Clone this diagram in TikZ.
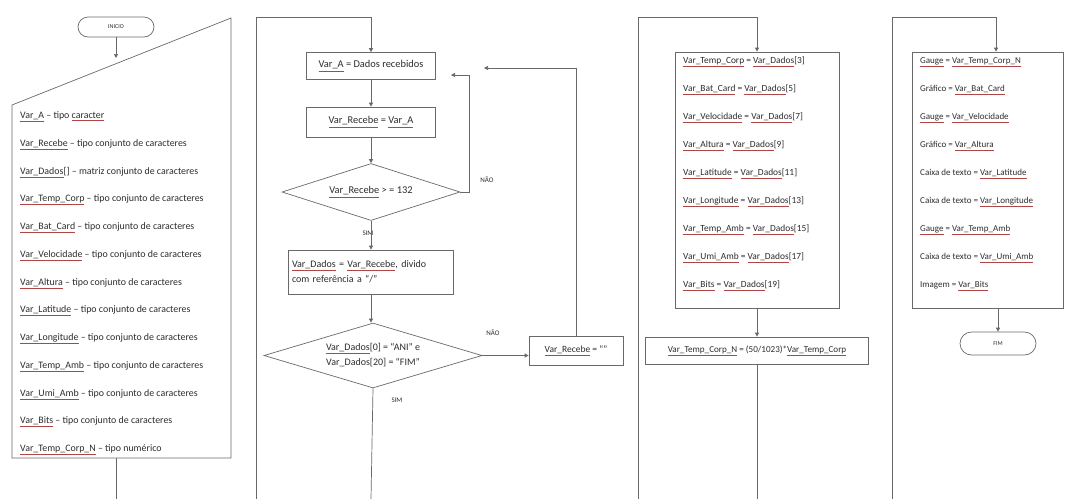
\documentclass[tikz,border=0pt]{standalone}
\usepackage{fontspec}
\setmainfont{Carlito}
\usetikzlibrary{shapes.geometric,shapes.misc,arrows.meta,calc}
\definecolor{lncol}{RGB}{105,105,105}
\definecolor{txcol}{RGB}{45,45,45}
\definecolor{ulcol}{RGB}{175,70,70}
\newcommand{\vn}[1]{\textcolor{ulcol}{\underline{\textcolor{txcol}{#1}}}}
\begin{document}
\begin{tikzpicture}[x=1pt,y=-1pt,
  font=\fontsize{9}{11}\selectfont, text=txcol,
  box/.style={draw=lncol, line width=0.7pt, fill=white, inner sep=2pt},
  term/.style={rounded rectangle, draw=lncol, line width=0.7pt, fill=white, inner sep=1pt, font=\fontsize{6}{7}\selectfont},
  dia/.style={diamond, draw=lncol, line width=0.7pt, fill=white, inner sep=0pt, align=center},
  lbl/.style={inner sep=0pt, anchor=west},
  lblA/.style={lbl, font=\fontsize{9.9}{11}\selectfont},
  lblC/.style={lbl, font=\fontsize{9.4}{11}\selectfont},
  tag/.style={inner sep=0pt, font=\fontsize{7}{8}\selectfont},
  conn/.style={draw=lncol, line width=0.7pt},
  arr/.style={conn, -{Triangle[length=4pt,width=4pt]}}]
\useasboundingbox (0,0) rectangle (1066,499);
\fill[white] (0,0) rectangle (1066,499);

% ---------- column 1 ----------
\node[term, minimum width=78pt, minimum height=20pt] (ini) at (116,27) {INICIO};
\draw[conn] (12,105) -- (231,18) -- (231,458) -- (12,458) -- cycle;
\coordinate (dtop) at (116,58);
\coordinate (dbot) at (116,458);
\coordinate (e1) at (116,499);
\draw[arr] (ini) -- (dtop);
\draw[conn] (dbot) -- (e1);
\node[lblA] (d1) at (20,117) {\vn{Var\_A} – tipo \vn{caracter}};
\node[lblA] (d2) at (20,145) {\vn{Var\_Recebe} – tipo conjunto de caracteres};
\node[lblA] (d3) at (20,172.5) {\vn{Var\_Dados}[] – matriz conjunto de caracteres};
\node[lblA] (d4) at (20,200) {\vn{Var\_Temp\_Corp} – tipo conjunto de caracteres};
\node[lblA] (d5) at (20,228) {\vn{Var\_Bat\_Card} – tipo conjunto de caracteres};
\node[lblA] (d6) at (20,256) {\vn{Var\_Velocidade} – tipo conjunto de caracteres};
\node[lblA] (d7) at (20,283.5) {\vn{Var\_Altura} – tipo conjunto de caracteres};
\node[lblA] (d8) at (20,311) {\vn{Var\_Latitude} – tipo conjunto de caracteres};
\node[lblA] (d9) at (20,339) {\vn{Var\_Longitude} – tipo conjunto de caracteres};
\node[lblA] (d10) at (20,367) {\vn{Var\_Temp\_Amb} – tipo conjunto de caracteres};
\node[lblA] (d11) at (20,394.5) {\vn{Var\_Umi\_Amb} – tipo conjunto de caracteres};
\node[lblA] (d12) at (20,422) {\vn{Var\_Bits} – tipo conjunto de caracteres};
\node[lblA] (d13) at (20,450) {\vn{Var\_Temp\_Corp\_N} – tipo numérico};

% ---------- column 2 ----------
\begin{scope}[font=\fontsize{10.4}{12}\selectfont]
\coordinate (s2) at (256,499);
\coordinate (t2) at (371,17);
\node[box, minimum width=129pt, minimum height=27pt] (a1) at (371,66) {\vn{Var\_A} = Dados recebidos};
\draw[arr] (s2) |- (t2) -- (a1.north);
\node[box, minimum width=129pt, minimum height=30pt] (a2) at (371,122) {\vn{Var\_Recebe} = \vn{Var\_A}};
\draw[arr] (a1) -- (a2);
\node[dia, minimum width=178pt, minimum height=57pt, aspect=3.1] (q1) at (371,192) {\vn{Var\_Recebe} > = 132};
\draw[arr] (a2) -- (q1);
\coordinate (n1a) at (469,75);
\coordinate (n1b) at (451,75);
\draw[arr] (q1.east) -| (n1a) -- (n1b);
\node[tag] (nao1) at (487,180) {NÃO};
\node[tag] (sim1) at (368,233) {SIM};
\node[box, minimum width=165pt, minimum height=44pt, text width=158pt, align=left, font=\fontsize{10}{15}\selectfont] (a3) at (371,272) {\vn{Var\_Dados} = \vn{Var\_Recebe}, divido\\com referência a “/”};
\draw[arr] (q1) -- (a3);
\node[dia, minimum width=218pt, minimum height=65pt, aspect=3.35, font=\fontsize{10}{15}\selectfont] (q2) at (373,355.5) {\vn{Var\_Dados}[0] = “ANI” e\\Var\_Dados[20] = “FIM”};
\draw[arr] (a3.south) -- (a3.south |- q2.north);
\node[box, minimum width=94pt, minimum height=29pt, font=\fontsize{9.5}{11}\selectfont] (a4) at (576,350.5) {\vn{Var\_Recebe} = “”};
\draw[arr] (q2.east) -- (q2.east -| a4.west);
\node[tag] (nao2) at (493,333) {NÃO};
\coordinate (r2) at (484,68);
\draw[arr] (a4.north) |- (r2);
\node[tag] (sim2) at (397,400) {SIM};
\coordinate (e2) at (371,499);
\draw[conn] (q2.south) -- (e2);
\end{scope}

% ---------- column 3 ----------
\coordinate (s3) at (638,499);
\coordinate (t3) at (757,17);
\node[box, minimum width=164pt, minimum height=256pt] (b1) at (757,180) {};
\draw[arr] (s3) |- (t3) -- (b1.north);
\node[lblC] (v1) at (683,62) {\vn{Var\_Temp\_Corp} = \vn{Var\_Dados}[3]};
\node[lblC] (v2) at (683,90) {\vn{Var\_Bat\_Card} = \vn{Var\_Dados}[5]};
\node[lblC] (v3) at (683,118) {\vn{Var\_Velocidade} = \vn{Var\_Dados}[7]};
\node[lblC] (v4) at (683,146) {\vn{Var\_Altura} = \vn{Var\_Dados}[9]};
\node[lblC] (v5) at (683,174) {\vn{Var\_Latitude} = \vn{Var\_Dados}[11]};
\node[lblC] (v6) at (683,202) {\vn{Var\_Longitude} = \vn{Var\_Dados}[13]};
\node[lblC] (v7) at (683,230) {\vn{Var\_Temp\_Amb} = \vn{Var\_Dados}[15]};
\node[lblC] (v8) at (683,258) {\vn{Var\_Umi\_Amb} = \vn{Var\_Dados}[17]};
\node[lblC] (v9) at (683,286) {\vn{Var\_Bits} = \vn{Var\_Dados}[19]};
\node[box, minimum width=223pt, minimum height=27pt, font=\fontsize{9.1}{11}\selectfont] (b2) at (757,350.5) {\vn{Var\_Temp\_Corp\_N} = (50/1023)*\vn{Var\_Temp\_Corp}};
\draw[arr] (b1) -- (b2);
\coordinate (e3) at (757,499);
\draw[conn] (b2) -- (e3);

% ---------- column 4 ----------
\coordinate (s4) at (892,499);
\coordinate (t4) at (996,17);
\node[box, minimum width=151pt, minimum height=256pt] (c1) at (987.5,180) {};
\draw[arr] (s4) |- (t4) -- (t4 |- c1.north);
\node[lbl] (w1) at (920,62) {\vn{Gauge} = \vn{Var\_Temp\_Corp\_N}};
\node[lbl] (w2) at (920,90) {Gráfico = \vn{Var\_Bat\_Card}};
\node[lbl] (w3) at (920,118) {\vn{Gauge} = \vn{Var\_Velocidade}};
\node[lbl] (w4) at (920,146) {Gráfico = \vn{Var\_Altura}};
\node[lbl] (w5) at (920,174) {Caixa de texto = \vn{Var\_Latitude}};
\node[lbl] (w6) at (920,202) {Caixa de texto = \vn{Var\_Longitude}};
\node[lbl] (w7) at (920,230) {\vn{Gauge} = \vn{Var\_Temp\_Amb}};
\node[lbl] (w8) at (920,258) {Caixa de texto = \vn{Var\_Umi\_Amb}};
\node[lbl] (w9) at (920,286) {Imagem = \vn{Var\_Bits}};
\node[term, minimum width=78pt, minimum height=23pt] (fim) at (998,343.5) {FIM};
\draw[arr] (fim.north |- c1.south) -- (fim.north);
\end{tikzpicture}
\end{document}
